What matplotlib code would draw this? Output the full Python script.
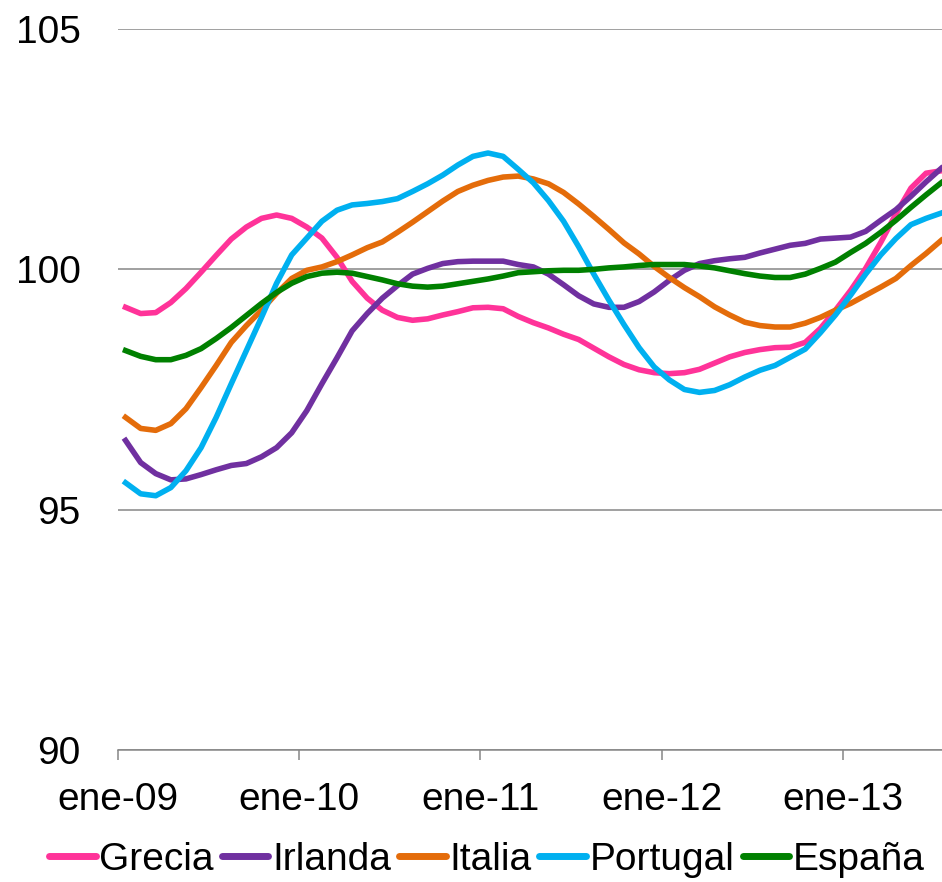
import matplotlib
matplotlib.use("Agg")
import matplotlib.pyplot as plt
import numpy as np

plt.rcParams['font.family'] = ['Liberation Sans', 'DejaVu Sans']

# monthly index values, ene-09 .. jul-13
grecia = [99.21, 99.08, 99.10, 99.31, 99.60, 99.94, 100.29, 100.63, 100.88, 101.06,
          101.13, 101.06, 100.88, 100.65, 100.25, 99.75, 99.40, 99.15, 99.00, 98.94,
          98.97, 99.05, 99.12, 99.20, 99.21, 99.18, 99.02, 98.89, 98.78, 98.65,
          98.54, 98.36, 98.18, 98.02, 97.91, 97.85, 97.83, 97.85, 97.92, 98.05,
          98.18, 98.27, 98.33, 98.37, 98.38, 98.48, 98.77, 99.15, 99.56, 100.02,
          100.56, 101.15, 101.69, 102.00, 102.05]
irlanda = [96.44, 95.98, 95.75, 95.62, 95.64, 95.73, 95.83, 95.92, 95.96, 96.10,
           96.29, 96.60, 97.06, 97.62, 98.16, 98.72, 99.08, 99.40, 99.66, 99.90,
           100.02, 100.12, 100.16, 100.17, 100.17, 100.17, 100.10, 100.05, 99.90, 99.68,
           99.45, 99.28, 99.21, 99.21, 99.33, 99.53, 99.77, 99.98, 100.12, 100.18,
           100.22, 100.25, 100.34, 100.42, 100.50, 100.54, 100.63, 100.65, 100.67, 100.79,
           101.02, 101.24, 101.52, 101.82, 102.10]
italia = [96.92, 96.69, 96.65, 96.79, 97.10, 97.54, 98.00, 98.48, 98.83, 99.15,
          99.50, 99.81, 99.98, 100.05, 100.16, 100.30, 100.45, 100.57, 100.77, 100.98,
          101.20, 101.42, 101.62, 101.75, 101.85, 101.92, 101.94, 101.88, 101.78, 101.60,
          101.36, 101.10, 100.83, 100.55, 100.32, 100.06, 99.83, 99.62, 99.43, 99.22,
          99.05, 98.90, 98.83, 98.80, 98.80, 98.88, 99.00, 99.15, 99.29, 99.46,
          99.63, 99.81, 100.08, 100.33, 100.60]
portugal = [95.56, 95.33, 95.29, 95.46, 95.81, 96.29, 96.92, 97.62, 98.31, 99.00,
            99.71, 100.30, 100.65, 101.00, 101.23, 101.34, 101.37, 101.41, 101.47, 101.62,
            101.78, 101.96, 102.17, 102.35, 102.42, 102.35, 102.08, 101.80, 101.43, 101.00,
            100.47, 99.90, 99.36, 98.85, 98.37, 97.97, 97.70, 97.50, 97.44, 97.48,
            97.60, 97.76, 97.90, 98.00, 98.17, 98.34, 98.68, 99.05, 99.46, 99.90,
            100.30, 100.64, 100.93, 101.06, 101.17]
espana = [98.31, 98.19, 98.12, 98.12, 98.21, 98.35, 98.56, 98.79, 99.04, 99.29,
          99.52, 99.71, 99.85, 99.92, 99.94, 99.92, 99.85, 99.78, 99.70, 99.65,
          99.63, 99.65, 99.70, 99.75, 99.80, 99.86, 99.93, 99.95, 99.97, 99.98,
          99.98, 100.00, 100.03, 100.05, 100.08, 100.10, 100.10, 100.10, 100.07, 100.03,
          99.97, 99.91, 99.86, 99.83, 99.83, 99.90, 100.02, 100.15, 100.35, 100.54,
          100.77, 101.02, 101.29, 101.55, 101.80]

names = ['Grecia', 'Irlanda', 'Italia', 'Portugal', 'España']
colors = ['#FF3399', '#7030A0', '#E46C0A', '#00B0F0', '#008000']
tick_labels = ['ene-09', 'ene-10', 'ene-11', 'ene-12', 'ene-13']

W, H = 942, 882
fig = plt.figure(figsize=(W / 100, H / 100), dpi=100)
ax = fig.add_axes([118 / W, (H - 750) / H, (W - 118) / W, (750 - 29) / H])

x = np.arange(len(grecia)) + 0.5
for vals, name, c in zip([grecia, irlanda, italia, portugal, espana], names, colors):
    ax.plot(x, vals, color=c, lw=4, label=name, solid_joinstyle='round')

ax.set_ylim(90, 105)
ax.set_xlim(0, (W - 118) / 15.104)
ax.set_yticks([90, 95, 100, 105])
ax.set_xticks([0, 12, 24, 36, 48])
ax.set_xticklabels(tick_labels)

ax.grid(axis='y', color='#868686', lw=1.1)
ax.set_axisbelow(True)
for s in ['top', 'right', 'left']:
    ax.spines[s].set_visible(False)
ax.spines['bottom'].set_color('#868686')
ax.spines['bottom'].set_linewidth(1.1)

ax.tick_params(axis='y', length=0, pad=27, labelsize=28)
ax.tick_params(axis='x', length=7, width=1.1, color='#868686', pad=16, labelsize=28)

leg = fig.legend(loc='center', bbox_to_anchor=(487 / W, (H - 860) / H), ncol=5,
                 frameon=False, fontsize=28, handlelength=1.2, handletextpad=0.1,
                 columnspacing=0.2, borderaxespad=0, borderpad=0)
for h in leg.get_lines():
    h.set_linewidth(5)
    h.set_solid_capstyle('round')

fig.savefig('out.png', dpi=100)
